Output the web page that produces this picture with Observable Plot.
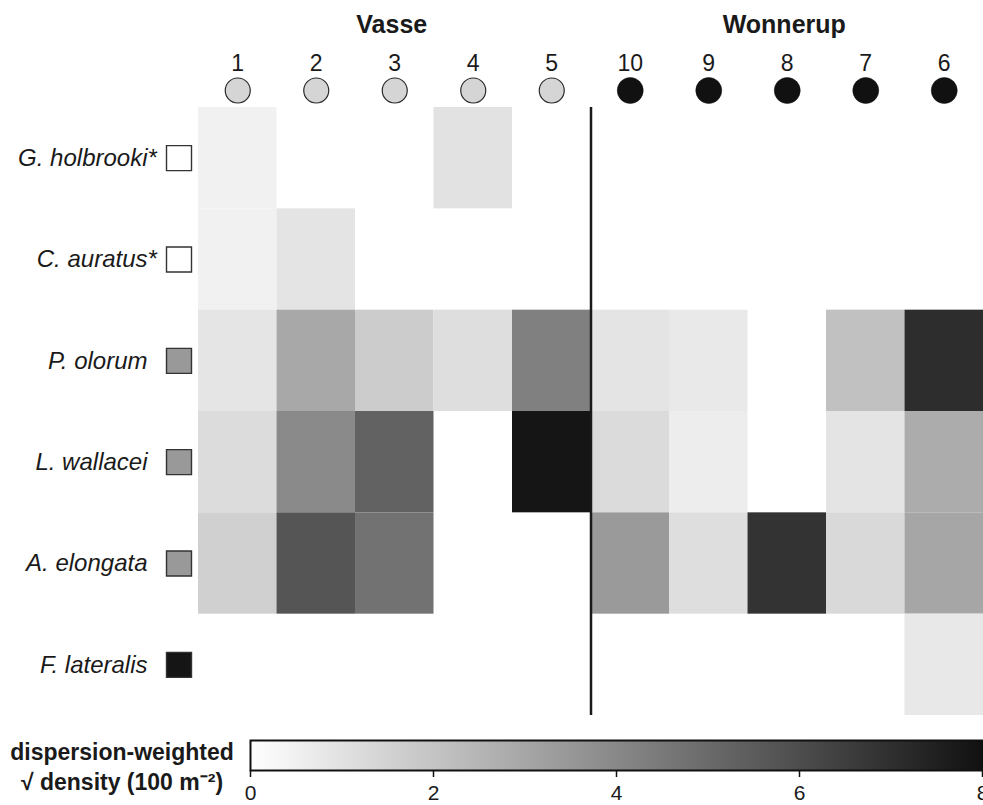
<!DOCTYPE html>
<html>
<head>
<meta charset="utf-8">
<script src="https://cdn.jsdelivr.net/npm/d3@7"></script>
<script src="https://cdn.jsdelivr.net/npm/@observablehq/plot@0.6"></script>
<style>
  html, body { margin: 0; padding: 0; background: #fff; overflow: hidden; }
  #chart svg { display: block; }
</style>
</head>
<body>
<div id="chart"></div>
<script>
// ---- data ----
const vasseSites = ["1", "2", "3", "4", "5"];
const wonnerupSites = ["10", "9", "8", "7", "6"];
const estuaries = ["Vasse", "Wonnerup"];
const species = ["G. holbrooki", "C. auratus", "P. olorum", "L. wallacei", "A. elongata", "F. lateralis"];
const introducedSpecies = ["G. holbrooki", "C. auratus"];
const speciesGuild = ["introduced", "introduced", "estuarine", "estuarine", "estuarine", "marine"];
// dispersion-weighted sqrt density, sites in order 1,2,3,4,5,10,9,8,7,6
const gHolbrooki  = [0.47, 0,    0,    0.97, 0,    0,    0,    0,    0,    0];
const cAuratus    = [0.47, 0.91, 0,    0,    0,    0,    0,    0,    0,    0];
const pOlorum     = [0.87, 2.92, 1.71, 1.11, 4.27, 0.91, 0.74, 0,    2.08, 7.06];
const lWallacei   = [1.18, 3.93, 5.28, 0,    7.87, 1.21, 0.61, 0,    0.91, 2.79];
const aElongata   = [1.58, 5.71, 4.74, 0,    0,    3.39, 1.11, 6.86, 1.28, 2.99];
const fLateralis  = [0,    0,    0,    0,    0,    0,    0,    0,    0,    0.77];
const legendDomain = [0, 8];
const legendTicks = [0, 2, 4, 6, 8];
const legendTitle = "dispersion-weighted\n\u221A density (100 m\u207B\u00B2)";

// ---- build table ----
const sites = [...vasseSites, ...wonnerupSites];
const seriesValues = [gHolbrooki, cAuratus, pOlorum, lWallacei, aElongata, fLateralis];
const cells = [];
species.forEach((sp, si) => {
  seriesValues[si].forEach((v, xi) => {
    if (v > 0) cells.push({species: sp, site: sites[xi], value: v});
  });
});

const FONT = "'Liberation Sans', Arial, Helvetica, sans-serif";
const INK = "#1a1a1a";
const bandW = (983 - 198) / sites.length;

const main = Plot.plot({
  width: 983,
  height: 720,
  marginTop: 107,
  marginBottom: 5,
  marginLeft: 198,
  marginRight: 0,
  style: {fontFamily: FONT, color: INK, background: "#fff", overflow: "visible"},
  x: {domain: sites, padding: 0, round: false, axis: null},
  y: {domain: species, padding: 0, round: false, axis: null},
  color: {type: "linear", domain: legendDomain, range: ["#ffffff", "#111111"], interpolate: "rgb"},
  marks: [
    Plot.cell(cells, {x: "site", y: "species", fill: "value", inset: 0}),
    Plot.ruleX([wonnerupSites[0]], {x: d => d, dx: -bandW / 2, stroke: INK, strokeWidth: 2.5}),
    // site numbers
    Plot.text(sites, {x: d => d, text: d => d, frameAnchor: "top", lineAnchor: "middle", dy: -44, fontSize: 23, fill: INK}),
    // site circles
    Plot.dot(vasseSites, {x: d => d, frameAnchor: "top", dy: -17, r: 12.5, fill: "#d4d5d4", stroke: "#2a2a2a", strokeWidth: 1.2}),
    Plot.dot(wonnerupSites, {x: d => d, frameAnchor: "top", dy: -17, r: 13, fill: "#111111", stroke: "#111111", strokeWidth: 0.5}),
    // estuary names
    Plot.text(estuaries, {x: (d, i) => [vasseSites, wonnerupSites][i][2], text: d => d, frameAnchor: "top", lineAnchor: "middle", dy: -83, dx: -3, fontSize: 25, fontWeight: "bold", fill: INK}),
    // species labels
    Plot.text(species, {y: d => d, text: d => d, frameAnchor: "left", textAnchor: "end", dx: -51, fontSize: 24, fontStyle: "italic", fill: INK}),
    Plot.text(introducedSpecies, {y: d => d, text: () => "*", frameAnchor: "left", textAnchor: "start", dx: -51, fontSize: 24, fontStyle: "italic", fill: INK}),
    // species squares
    Plot.dot(species, {filter: (d, i) => speciesGuild[i] === "introduced", y: d => d, frameAnchor: "left", dx: -19.5, symbol: "square", r: 14.1, fill: "#ffffff", stroke: "#333", strokeWidth: 1.4}),
    Plot.dot(species, {filter: (d, i) => speciesGuild[i] === "estuarine", y: d => d, frameAnchor: "left", dx: -19.5, symbol: "square", r: 14.1, fill: "#999999", stroke: "#333", strokeWidth: 1.4}),
    Plot.dot(species, {filter: (d, i) => speciesGuild[i] === "marine", y: d => d, frameAnchor: "left", dx: -19.5, symbol: "square", r: 14.1, fill: "#151515", stroke: "#333", strokeWidth: 1.4})
  ]
});

const legend = Plot.plot({
  width: 983,
  height: 85,
  marginTop: 20,
  marginBottom: 35,
  marginLeft: 250,
  marginRight: 1,
  style: {fontFamily: FONT, color: INK, background: "#fff", overflow: "visible"},
  x: {domain: legendDomain},
  y: {domain: [0, 1], axis: null},
  marks: [
    Plot.rect([legendDomain], {x1: d => d[0], x2: d => d[1], y1: 0, y2: 1, fill: "url(#legendGradient)"}),
    Plot.frame({stroke: "#111", strokeWidth: 2}),
    Plot.axisX({ticks: legendTicks, tickSize: 7, tickPadding: 8, fontSize: 21, label: null, stroke: "#111", strokeWidth: 1.5, fill: INK}),
    Plot.text([legendTitle], {text: d => d, frameAnchor: "left", textAnchor: "middle", dx: -128.5, dy: 10, fontSize: 23, fontWeight: "bold", lineHeight: 1.3, fill: INK})
  ]
});

// gradient for the colour bar, taken from the heatmap colour scale
const color = main.scale("color");
const defs = d3.select(legend).insert("defs", ":first-child");
const grad = defs.append("linearGradient").attr("id", "legendGradient").attr("x1", "0%").attr("x2", "100%");
legendTicks.forEach(v => {
  grad.append("stop").attr("offset", (v - legendDomain[0]) / (legendDomain[1] - legendDomain[0])).attr("stop-color", color.apply(v));
});

const root = document.getElementById("chart");
root.appendChild(main);
root.appendChild(legend);
</script>
</body>
</html>
